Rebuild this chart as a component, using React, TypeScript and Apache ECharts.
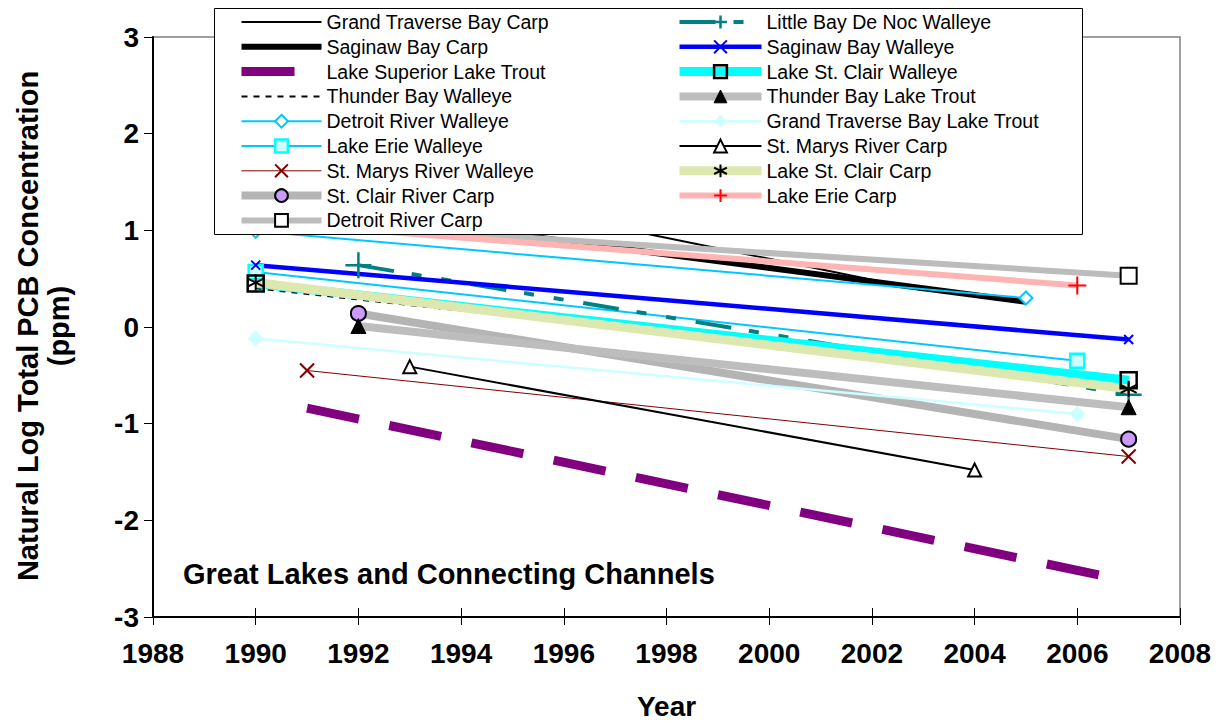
import React, { useEffect, useRef } from "react";
import * as echarts from "echarts";

// ---- data ----
const SERIES_NAMES = [
  "Grand Traverse Bay Carp",
  "Saginaw Bay Carp",
  "Lake Superior Lake Trout",
  "Thunder Bay Walleye",
  "Detroit River Walleye",
  "Lake Erie Walleye",
  "St. Marys River Walleye",
  "St. Clair River Carp",
  "Detroit River Carp",
  "Little Bay De Noc Walleye",
  "Saginaw Bay Walleye",
  "Lake St. Clair Walleye",
  "Thunder Bay Lake Trout",
  "Grand Traverse Bay Lake Trout",
  "St. Marys River Carp",
  "Lake St. Clair Carp",
  "Lake Erie Carp",
];
const START_YEARS = [1990, 1990, 1991, 1990, 1990, 1990, 1991, 1992, 1990, 1992, 1990, 1990, 1992, 1990, 1993, 1990, 1990];
const START_VALUES = [1.79, 1.31, -0.84, 0.4, 0.99, 0.57, -0.45, 0.14, 1.1, 0.64, 0.64, 0.45, 0.01, -0.12, -0.41, 0.46, 1.09];
const END_YEARS = [2003, 2005, 2007, 2007, 2005, 2006, 2007, 2007, 2007, 2007, 2007, 2007, 2007, 2006, 2004, 2007, 2006];
const END_VALUES = [0.38, 0.26, -2.63, -0.58, 0.3, -0.35, -1.34, -1.16, 0.53, -0.7, -0.13, -0.55, -0.83, -0.9, -1.48, -0.64, 0.43];

const X_MIN = 1988;
const X_MAX = 2008;
const X_STEP = 2;
const Y_MIN = -3;
const Y_MAX = 3;
const Y_STEP = 1;

const X_TITLE = "Year";
const Y_TITLE_1 = "Natural Log Total PCB Concentration";
const Y_TITLE_2 = "(ppm)";
const ANNOTATION = "Great Lakes and Connecting Channels";

// ---- styles ----
const FONT = "'Liberation Sans', Arial, Helvetica, sans-serif";
const PLUS = "path://M5,0L5,10M0,5L10,5";
const CROSS = "path://M0,0L10,10M10,0L0,10";
const STAR = "path://M5,0L5,10M0.67,2.5L9.33,7.5M9.33,2.5L0.67,7.5";
const NONE = "rgba(0,0,0,0)";

type Sty = {
  color: string;
  width: number;
  dash?: number[] | string;
  symbol?: string;
  size?: number;
  fill?: string;
  border?: string;
  bw?: number;
};

const STYLES: Sty[] = [
  { color: "#000000", width: 2 },
  { color: "#000000", width: 6 },
  { color: "#800080", width: 9, dash: [53, 31] },
  { color: "#000000", width: 2, dash: [6, 6] },
  { color: "#00c8ff", width: 2, symbol: "diamond", size: 13, fill: "#ffffff", border: "#00c8ff", bw: 2 },
  { color: "#00c8ff", width: 2, symbol: "rect", size: 14, fill: "#ccffff", border: "#00ffff", bw: 2.5 },
  { color: "#800000", width: 1, symbol: CROSS, size: 14, fill: NONE, border: "#800000", bw: 2 },
  { color: "#b4b4b4", width: 8, symbol: "circle", size: 15, fill: "#cc99ff", border: "#000000", bw: 2 },
  { color: "#bcbcbc", width: 6, symbol: "rect", size: 16, fill: "#ffffff", border: "#000000", bw: 2 },
  { color: "#008080", width: 4, dash: [36, 18, 10, 20, 10, 20], symbol: PLUS, size: 26, fill: NONE, border: "#008080", bw: 2.5 },
  { color: "#0000ff", width: 4.5, symbol: CROSS, size: 9, fill: NONE, border: "#0000ff", bw: 2 },
  { color: "#00ffff", width: 9, symbol: "rect", size: 16, fill: NONE, border: "#000000", bw: 2.5 },
  { color: "#bdbdbd", width: 8, symbol: "triangle", size: 15, fill: "#000000", border: "#000000", bw: 1 },
  { color: "#ccffff", width: 2.5, symbol: "diamond", size: 16, fill: "#ccffff", border: "#ccffff", bw: 0 },
  { color: "#000000", width: 2, symbol: "triangle", size: 13, fill: "#ffffff", border: "#000000", bw: 2 },
  { color: "#dde8b0", width: 9, symbol: STAR, size: 16, fill: NONE, border: "#000000", bw: 2 },
  { color: "#ffb4b4", width: 6, symbol: PLUS, size: 18, fill: NONE, border: "#ff0000", bw: 2 },
];

export default function App() {
  const ref = useRef<HTMLDivElement>(null);

  useEffect(() => {
    if (!ref.current) return;
    const chart = echarts.init(ref.current, undefined, { renderer: "svg" });

    const series = SERIES_NAMES.map((name, i) => {
      const s = STYLES[i];
      const hasSym = !!s.symbol;
      return {
        type: "line",
        name,
        xAxisIndex: 0,
        data: [
          [START_YEARS[i], START_VALUES[i]],
          [END_YEARS[i], END_VALUES[i]],
        ],
        symbol: hasSym ? s.symbol : "circle",
        symbolSize: hasSym ? s.size : 0,
        showSymbol: hasSym,
        silent: true,
        lineStyle: {
          color: s.color,
          width: s.width,
          type: s.dash || "solid",
          cap: "butt",
        },
        itemStyle: hasSym
          ? { color: s.fill, borderColor: s.border, borderWidth: s.bw, opacity: 1 }
          : { color: NONE, borderColor: NONE, borderWidth: 0 },
        emphasis: { disabled: true },
      };
    });

    const legendBase = {
      orient: "vertical",
      top: 7,
      itemHeight: 16,
      itemGap: 4.8,
      selectedMode: false,
      z: 10,
      textStyle: { fontSize: 19.5, fontFamily: FONT, color: "#000" },
      lineStyle: { width: "inherit" },
      itemStyle: { borderWidth: "inherit" },
    };

    const axisFont = { fontSize: 28, fontWeight: "bold", fontFamily: FONT, color: "#000" };

    chart.setOption({
      animation: false,
      backgroundColor: "#ffffff",
      grid: {
        left: 153,
        right: 45,
        top: 37,
        bottom: 105,
        show: true,
        borderColor: "#808080",
        borderWidth: 1.5,
        backgroundColor: "transparent",
      },
      legend: [
        { ...legendBase, left: 232, itemWidth: 80, data: SERIES_NAMES.slice(0, 9) },
        { ...legendBase, left: 670, itemWidth: 82, data: SERIES_NAMES.slice(9) },
      ],
      xAxis: [
        {
          type: "value",
          min: X_MIN,
          max: X_MAX,
          interval: X_STEP,
          position: "bottom",
          axisLine: { show: true, onZero: false, lineStyle: { color: "#000", width: 2 } },
          axisTick: { show: true, length: 8, lineStyle: { color: "#000", width: 1 } },
          axisLabel: { ...axisFont, margin: 22, formatter: (v: number) => String(v) },
          splitLine: { show: false },
          name: X_TITLE,
          nameLocation: "middle",
          nameGap: 75,
          nameTextStyle: axisFont,
        },
        {
          type: "value",
          min: X_MIN,
          max: X_MAX,
          interval: X_STEP,
          position: "bottom",
          axisLine: { show: false, onZero: false },
          axisTick: { show: true, inside: true, length: 9, lineStyle: { color: "#000", width: 1 } },
          axisLabel: { show: false },
          splitLine: { show: false },
        },
      ],
      yAxis: {
        type: "value",
        min: Y_MIN,
        max: Y_MAX,
        interval: Y_STEP,
        axisLine: { show: true, onZero: false, lineStyle: { color: "#000", width: 2 } },
        axisTick: { show: true, length: 9, lineStyle: { color: "#000", width: 1 } },
        axisLabel: { ...axisFont, margin: 14 },
        splitLine: { show: false },
      },
      graphic: [
        {
          type: "rect",
          z: 5,
          silent: true,
          shape: { x: 214.5, y: 8.5, width: 868, height: 226 },
          style: { fill: "#ffffff", stroke: "#000000", lineWidth: 1 },
        },
        {
          type: "text",
          z: 5,
          silent: true,
          x: 183,
          y: 574,
          style: {
            text: ANNOTATION,
            font: `bold 29px ${FONT}`,
            fill: "#000",
            textAlign: "left",
            textVerticalAlign: "middle",
          },
        },
        {
          type: "text",
          z: 5,
          silent: true,
          x: 28,
          y: 326,
          rotation: Math.PI / 2,
          style: {
            text: Y_TITLE_1,
            font: `bold 29px ${FONT}`,
            fill: "#000",
            textAlign: "center",
            textVerticalAlign: "middle",
          },
        },
        {
          type: "text",
          z: 5,
          silent: true,
          x: 59,
          y: 326,
          rotation: Math.PI / 2,
          style: {
            text: Y_TITLE_2,
            font: `bold 29px ${FONT}`,
            fill: "#000",
            textAlign: "center",
            textVerticalAlign: "middle",
          },
        },
      ],
      series,
    });

    return () => chart.dispose();
  }, []);

  return (
    <div
      ref={ref}
      style={{ position: "absolute", left: 0, top: 0, width: 1225, height: 725, background: "#fff" }}
    />
  );
}
